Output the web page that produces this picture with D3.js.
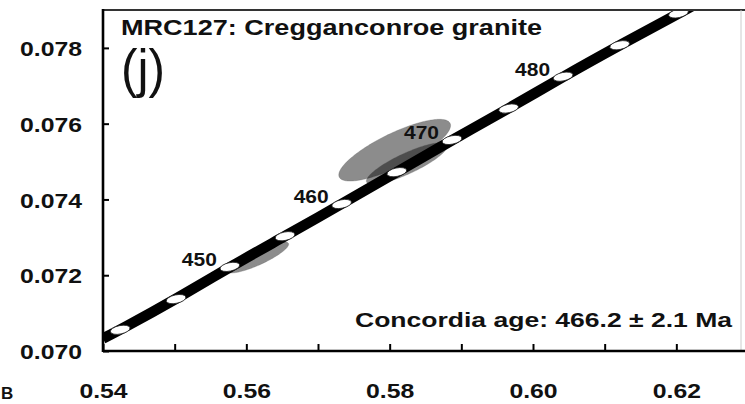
<!DOCTYPE html>
<html>
<head>
<meta charset="utf-8">
<script src="https://cdn.jsdelivr.net/npm/d3@7"></script>
<style>
  html, body { margin: 0; padding: 0; background: #fff; }
  svg { display: block; }
  text { font-family: "Liberation Sans", Arial, Helvetica, sans-serif; fill: #111; }
</style>
</head>
<body>
<svg id="chart" width="745" height="404"></svg>
<script>
// ---- data ----
const xTicks = [0.54, 0.55, 0.56, 0.57, 0.58, 0.59, 0.60, 0.61, 0.62];
const xTickLabels = ["0.54", "", "0.56", "", "0.58", "", "0.60", "", "0.62"];
const yTicks = [0.070, 0.072, 0.074, 0.076, 0.078];
const yTickLabels = ["0.070", "0.072", "0.074", "0.076", "0.078"];

// concordia age markers (Ma) and their 207Pb/235U, 206Pb/238U positions
const markerAges = [440, 445, 450, 455, 460, 465, 470, 475, 480, 485, 490];
const marker207 = [0.5424, 0.5502, 0.5577, 0.5654, 0.5733, 0.5810, 0.5887, 0.5966, 0.6042, 0.6121, 0.6203];
const marker206 = [0.07056, 0.07137, 0.07222, 0.07303, 0.07388, 0.07472, 0.07557, 0.07640, 0.07724, 0.07807, 0.07891];
const labelledAges = [450, 460, 470, 480];

// concordia curve end points where it meets the frame
const curveStart = [0.5400, 0.07033];
const curveEnd = [0.6222, 0.07910];

// analysis error ellipses
const ellipseCx = [0.5616, 0.5807, 0.5824];
const ellipseCy = [0.07247, 0.07530, 0.07495];
const ellipseSx = [0.00430, 0.00780, 0.00565];
const ellipseSy = [0.000410, 0.000815, 0.000550];
const ellipseRho = [0.85, 0.80, 0.84];

const titleText = "MRC127: Cregganconroe granite";
const panelText = "(j)";
const ageText = "Concordia age: 466.2 \u00b1 2.1 Ma";

// ---- layout ----
const svg = d3.select("#chart");
const L = 103, R = 748, T = 10, B = 351;
const SX = 1.18;

const x = d3.scaleLinear().domain([0.54, 0.63]).range([L, R]);
const y = d3.scaleLinear().domain([0.070, 0.079]).range([B, T]);

svg.append("defs").append("clipPath").attr("id", "plotclip")
  .append("rect").attr("x", L).attr("y", T).attr("width", 745 - L).attr("height", B - T);

const plot = svg.append("g").attr("clip-path", "url(#plotclip)");

// ellipses
ellipseCx.forEach((cx, i) => {
  const sx = ellipseSx[i], sy = ellipseSy[i], r = ellipseRho[i];
  const pts = d3.range(0, 2 * Math.PI, Math.PI / 90).map(t => [
    x(cx + sx * Math.cos(t)),
    y(ellipseCy[i] + sy * (r * Math.cos(t) + Math.sqrt(1 - r * r) * Math.sin(t)))
  ]);
  plot.append("path")
    .attr("d", d3.line().curve(d3.curveLinearClosed)(pts))
    .attr("fill", "#000").attr("fill-opacity", 0.45)
    .attr("stroke", "#555").attr("stroke-opacity", 0.35).attr("stroke-width", 0.8);
});

// concordia band
const curvePts = [curveStart].concat(marker207.map((v, i) => [v, marker206[i]]), [curveEnd]);
plot.append("path")
  .attr("d", d3.line().x(d => x(d[0])).y(d => y(d[1])).curve(d3.curveBasis)(curvePts))
  .attr("fill", "none").attr("stroke", "#000").attr("stroke-width", 10.5);

// markers
plot.selectAll("ellipse.m").data(markerAges).join("ellipse")
  .attr("class", "m")
  .attr("transform", (d, i) => `translate(${x(marker207[i])},${y(marker206[i])}) rotate(-12)`)
  .attr("rx", 10).attr("ry", 4.2)
  .attr("fill", "#fff").attr("stroke", "#222").attr("stroke-width", 0.8);

// marker labels
labelledAges.forEach(a => {
  const i = markerAges.indexOf(a);
  svg.append("text")
    .attr("x", x(marker207[i]) - 13).attr("y", y(marker206[i]) - 0.5)
    .attr("text-anchor", "end")
    .attr("font-size", 19).attr("font-weight", "bold")
    .attr("textLength", 35).attr("lengthAdjust", "spacingAndGlyphs")
    .text(String(a));
});

// frame
svg.append("line").attr("x1", L).attr("x2", 745).attr("y1", T).attr("y2", T)
  .attr("stroke", "#333").attr("stroke-width", 2.2);
svg.append("line").attr("x1", 741).attr("x2", 741).attr("y1", T).attr("y2", B)
  .attr("stroke", "#ccc").attr("stroke-width", 1);

// axes
const xAxis = d3.axisBottom(x).tickValues(xTicks).tickSizeInner(-7).tickSizeOuter(0)
  .tickFormat((d, i) => xTickLabels[i]);
const gx = svg.append("g").attr("transform", `translate(0,${B})`).call(xAxis);
gx.select(".domain").attr("d", `M${L},0H745`).attr("stroke", "#000").attr("stroke-width", 2.6);
gx.selectAll(".tick line").attr("stroke", "#000").attr("stroke-width", 2);
gx.selectAll(".tick text")
  .attr("y", null).attr("dy", null)
  .attr("transform", `translate(0,47) scale(${SX},1)`)
  .attr("font-size", 21).attr("font-weight", "bold")
  .attr("font-family", '"Liberation Sans", Arial, sans-serif').attr("fill", "#111");

const yAxis = d3.axisLeft(y).tickValues(yTicks).tickSizeInner(-6).tickSizeOuter(0)
  .tickFormat((d, i) => yTickLabels[i]);
const gy = svg.append("g").attr("transform", `translate(${L},0)`).call(yAxis);
gy.select(".domain").attr("d", `M0,${T - 1}V${B + 1}`).attr("stroke", "#000").attr("stroke-width", 2.6);
gy.selectAll(".tick line").attr("stroke", "#000").attr("stroke-width", 2);
gy.selectAll(".tick text")
  .attr("x", null).attr("dy", "0.36em")
  .attr("transform", `translate(-21,0) scale(${SX},1)`)
  .attr("font-size", 21).attr("font-weight", "bold")
  .attr("font-family", '"Liberation Sans", Arial, sans-serif').attr("fill", "#111");

// texts
svg.append("text").attr("x", 121).attr("y", 35)
  .attr("font-size", 22).attr("font-weight", "bold")
  .attr("textLength", 421).attr("lengthAdjust", "spacingAndGlyphs")
  .text(titleText);

svg.append("text").attr("x", 121).attr("y", 87)
  .attr("font-size", 54).attr("font-weight", "normal")
  .attr("textLength", 44).attr("lengthAdjust", "spacingAndGlyphs")
  .text(panelText);

svg.append("text").attr("x", 355).attr("y", 327)
  .attr("font-size", 21).attr("font-weight", "bold")
  .attr("textLength", 377).attr("lengthAdjust", "spacingAndGlyphs")
  .text(ageText);

// panel letter at the lower-left edge
svg.append("text").attr("x", 1).attr("y", 399)
  .attr("font-size", 17).attr("font-weight", "bold")
  .text("B");
</script>
</body>
</html>
